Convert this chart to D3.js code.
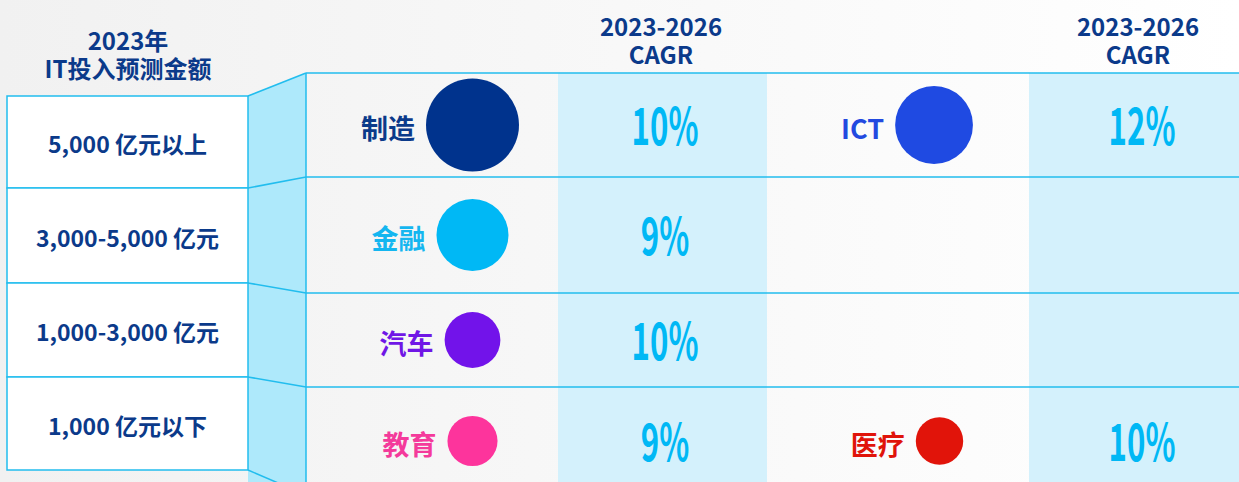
<html>
<head>
    <meta charset="UTF-8" />
    <script src="https://d3js.org/d3.v7.min.js"></script>
    <style>
        body { margin: 0; overflow: hidden; }
        text { font-family: "Noto Sans CJK SC", "Noto Sans", sans-serif; font-weight: 700; }
    </style>
</head>
<body>
    <svg id="svg" width="1239" height="482"></svg>
    <script>
        // data
        const leftTitle = ["2023年", "IT投入预测金额"];
        const cagrTitle = ["2023-2026", "CAGR"];
        const tiers = ["5,000 亿元以上", "3,000-5,000 亿元", "1,000-3,000 亿元", "1,000 亿元以下"];
        const industries = ["制造", "ICT", "金融", "汽车", "教育", "医疗"];
        const industryTier = [0, 0, 1, 2, 3, 3];
        const industryGroup = [0, 1, 0, 0, 0, 1];
        const cagr = [10, 12, 9, 10, 9, 10];
        const bubbleSize = [100, 70, 60, 36, 29, 26]; // relative, from bubble areas

        // styles
        const navy = "#0b3a8a";
        const lineColor = "#22bdee";
        const circleColors = ["#00338d", "#1f4ae2", "#00b8f5", "#7213ea", "#fd349c", "#e1140a"];
        const labelColors = ["#0b3a8a", "#2249e0", "#14b6f0", "#7016e6", "#f43a9b", "#e0140a"];

        const svg = d3.select("svg#svg");
        const width = +svg.attr("width");
        const height = +svg.attr("height");

        // layout
        const boxLeft = 7, boxRight = 248, tableLeft = 306;
        const boxEdges = [96, 188, 283, 377, 470];
        const rowEdges = [73, 177, 293, 387, 495];
        const groupCenter = [440, 907];          // label + bubble group centres
        const cagrBand = [[558, 767], [1029, 1255]];
        const cagrCenter = [665, 1142];

        // background gradient
        const defs = svg.append("defs");
        const grad = defs.append("linearGradient").attr("id", "bg").attr("x1", 0).attr("x2", 1).attr("y1", 0).attr("y2", 0);
        grad.append("stop").attr("offset", "0%").attr("stop-color", "#f1f1f1");
        grad.append("stop").attr("offset", "100%").attr("stop-color", "#ffffff");
        svg.append("rect").attr("width", width).attr("height", height).attr("fill", "url(#bg)");

        // shaded CAGR columns
        svg.selectAll("rect.band").data(cagrBand)
            .join("rect")
            .attr("class", "band")
            .attr("x", d => d[0])
            .attr("y", rowEdges[0])
            .attr("width", d => d[1] - d[0])
            .attr("height", height - rowEdges[0])
            .attr("fill", "#d4f1fc");

        // connector between the boxes and the table
        const connector = d3.line();
        svg.append("path")
            .attr("d", connector([[boxRight, boxEdges[0]], [tableLeft, rowEdges[0]], [tableLeft, height + 20], [boxRight, height + 20]]) + "Z")
            .attr("fill", "#aee9fb");
        svg.selectAll("path.link").data(boxEdges)
            .join("path")
            .attr("class", "link")
            .attr("d", (d, i) => connector([[boxRight, d], [tableLeft, rowEdges[i]]]))
            .attr("stroke", lineColor)
            .attr("stroke-width", 1.5)
            .attr("fill", "none");
        svg.append("line")
            .attr("x1", tableLeft).attr("x2", tableLeft)
            .attr("y1", rowEdges[0]).attr("y2", height)
            .attr("stroke", lineColor).attr("stroke-width", 1.5);

        // table row lines
        svg.selectAll("line.row").data(rowEdges.slice(0, 4))
            .join("line")
            .attr("class", "row")
            .attr("x1", tableLeft).attr("x2", width)
            .attr("y1", d => d).attr("y2", d => d)
            .attr("stroke", lineColor)
            .attr("stroke-width", 1.5);

        // left tier boxes
        const boxes = svg.selectAll("g.tier").data(tiers)
            .join("g")
            .attr("class", "tier");
        boxes.append("rect")
            .attr("x", boxLeft)
            .attr("y", (d, i) => boxEdges[i])
            .attr("width", boxRight - boxLeft)
            .attr("height", (d, i) => boxEdges[i + 1] - boxEdges[i])
            .attr("fill", "#ffffff")
            .attr("stroke", lineColor)
            .attr("stroke-width", 1.5);
        boxes.append("text")
            .attr("x", (boxLeft + boxRight) / 2)
            .attr("y", (d, i) => (boxEdges[i] + boxEdges[i + 1]) / 2 + 1)
            .attr("text-anchor", "middle")
            .attr("dominant-baseline", "central")
            .attr("font-size", 23)
            .attr("fill", navy)
            .text(d => d);

        // titles
        svg.selectAll("text.ltitle").data(leftTitle)
            .join("text")
            .attr("class", "ltitle")
            .attr("x", 128)
            .attr("y", (d, i) => 50 + i * 28)
            .attr("text-anchor", "middle")
            .attr("font-size", 24)
            .attr("fill", navy)
            .text(d => d);
        cagrCenter.forEach(cx => {
            svg.selectAll(null).data(cagrTitle)
                .join("text")
                .attr("x", cx - 4)
                .attr("y", (d, i) => 36 + i * 28)
                .attr("text-anchor", "middle")
                .attr("font-family", "'Noto Sans', sans-serif")
                .attr("font-size", 24)
                .attr("fill", navy)
                .text(d => d);
        });

        // bubbles
        const rowY = i => (rowEdges[i] + rowEdges[i + 1]) / 2;
        const rScale = d3.scaleSqrt().domain([0, d3.max(bubbleSize)]).range([0, 46.5]);
        const gap = 11;

        industries.forEach((name, i) => {
            const cy = rowY(industryTier[i]);
            const label = svg.append("text")
                .attr("y", cy + 2)
                .attr("dominant-baseline", "central")
                .attr("font-size", 27)
                .attr("fill", labelColors[i])
                .text(name);
            const lw = label.node().getComputedTextLength();
            const r = rScale(bubbleSize[i]);
            const total = lw + gap + 2 * r;
            const x0 = groupCenter[industryGroup[i]] - total / 2;
            label.attr("x", x0);
            svg.append("circle")
                .attr("cx", x0 + lw + gap + r)
                .attr("cy", cy)
                .attr("r", r)
                .attr("fill", circleColors[i]);

            // CAGR value, condensed
            const cx = cagrCenter[industryGroup[i]];
            svg.append("text")
                .attr("transform", "translate(" + cx + "," + (cy + 20) + ") scale(0.6,1)")
                .attr("text-anchor", "middle")
                .attr("font-family", "Roboto, sans-serif")
                .attr("font-weight", 900)
                .attr("font-size", 52)
                .attr("fill", "#00b8f5")
                .text(cagr[i] + "%");
        });
    </script>
</body>
</html>
